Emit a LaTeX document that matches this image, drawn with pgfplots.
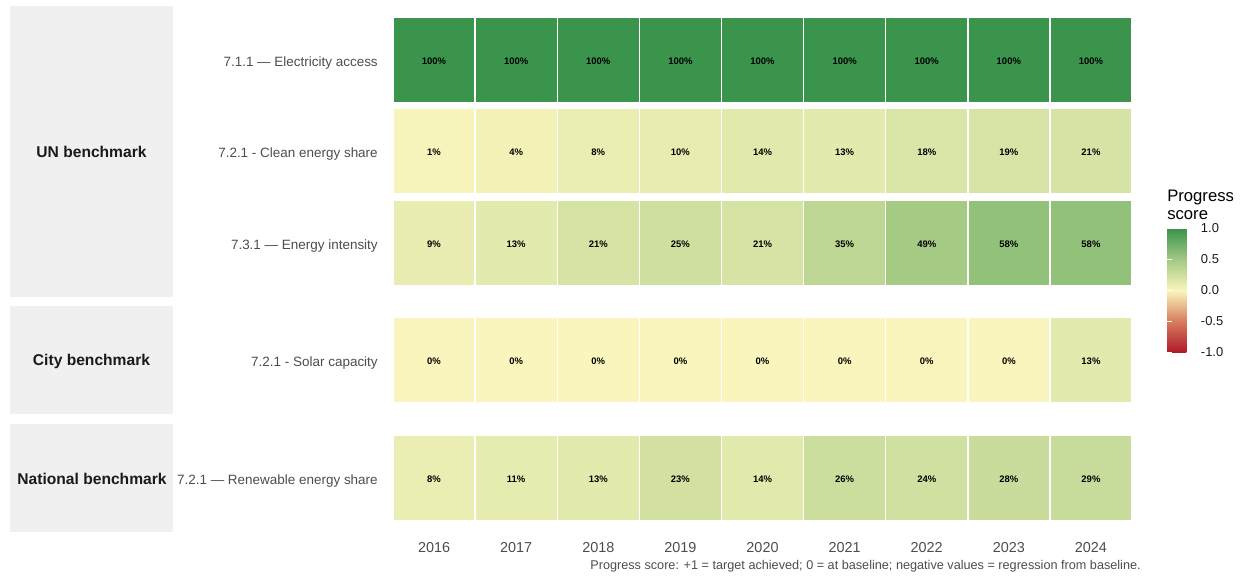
\documentclass[border=0pt]{standalone}
\usepackage{pgfplots}
\pgfplotsset{compat=1.18}
\usepackage{pgfplotstable}
\usepackage{fontspec}
\setmainfont{Liberation Sans}
\definecolor{stripbg}{HTML}{F0F0F0}
\definecolor{labgray}{HTML}{4D4D4D}
\definecolor{txt}{HTML}{1A1A1A}

\pgfdeclareplotmark{tile}{%
  \pgfpathrectangle{\pgfpoint{-30.25pt}{-31.5pt}}{\pgfpoint{60.5pt}{63pt}}%
  \pgfusepathqfill}
\pgfdeclareplotmark{tileempty}{}

% UN benchmark: y=3 Electricity access, y=2 Clean energy share, y=1 Energy intensity
\pgfplotstableread{
x y v
1 3 100
2 3 100
3 3 100
4 3 100
5 3 100
6 3 100
7 3 100
8 3 100
9 3 100
1 2 1
2 2 4
3 2 8
4 2 10
5 2 14
6 2 13
7 2 18
8 2 19
9 2 21
1 1 9
2 1 13
3 1 21
4 1 25
5 1 21
6 1 35
7 1 49
8 1 58
9 1 58
}\untab

\pgfplotstableread{
x y v
1 1 0
2 1 0
3 1 0
4 1 0
5 1 0
6 1 0
7 1 0
8 1 0
9 1 13
}\citytab

\pgfplotstableread{
x y v
1 1 8
2 1 11
3 1 13
4 1 23
5 1 14
6 1 26
7 1 24
8 1 28
9 1 29
}\nattab

\pgfplotsset{
  colormap={rdylgn}{rgb255=(176,24,42) rgb255=(214,124,94) rgb255=(249,245,188) rgb255=(163,201,131) rgb255=(58,148,76)},
  tilestyle/.style={
    scale only axis, width=554.25pt,
    xmin=0.5, xmax=9.5, ymin=0.41,
    axis line style={draw=none}, tick style={draw=none}, major tick length=0pt,
    xtick=\empty,
    yticklabel style={anchor=east, inner sep=0pt, xshift=-11.25pt, yshift=-2pt, text=labgray, font=\fontsize{10.1}{12}\selectfont},
    point meta min=-100, point meta max=100, colormap name=rdylgn,
    clip=false,
  },
  tileplot/.style={
    scatter, only marks, mark=tile,
    point meta=explicit,
    scatter/use mapped color={draw=mapped color, fill=mapped color},
  },
  labelplot/.style={
    only marks, mark=tileempty,
    point meta=explicit,
    nodes near coords={\pgfmathprintnumber[fixed,precision=0,assume math mode=true]{\pgfplotspointmeta}\%},
    nodes near coords align=center,
    every node near coord/.append style={anchor=center, yshift=-0.75pt, text=black, font=\bfseries\fontsize{7.1}{8}\selectfont},
  },
}

\begin{document}
\begin{tikzpicture}
\path[use as bounding box] (0,0) rectangle (933.75pt,433.5pt);

% strips
\fill[stripbg] ({10*0.75pt},{(578-297)*0.75pt}) rectangle ({173*0.75pt},{(578-6)*0.75pt});
\fill[stripbg] ({10*0.75pt},{(578-414)*0.75pt}) rectangle ({173*0.75pt},{(578-306)*0.75pt});
\fill[stripbg] ({10*0.75pt},{(578-532)*0.75pt}) rectangle ({173*0.75pt},{(578-424)*0.75pt});
\node[text=txt, font=\bfseries\fontsize{11.7}{14}\selectfont] at ({91.5*0.75pt},{(578-151.5)*0.75pt}) {UN benchmark};
\node[text=txt, font=\bfseries\fontsize{11.7}{14}\selectfont] at ({91.5*0.75pt},{(578-361)*0.75pt}) {City benchmark};
\node[text=txt, font=\bfseries\fontsize{11.7}{14}\selectfont] at ({92*0.75pt},{(578-479)*0.75pt}) {National benchmark};

% UN benchmark panel
\begin{axis}[tilestyle,
  at={(294.75pt,210.75pt)}, anchor=south west, height=218.25pt,
  ymax=3.59, ytick={1,2,3},
  yticklabels={7.3.1 — Energy intensity, 7.2.1 - Clean energy share, 7.1.1 — Electricity access},
  colorbar,
  colorbar style={
    at={(parent axis.north east)}, anchor=north west,
    xshift=18pt, yshift=-166.9pt,
    scale only axis, width=18.5pt, height=93pt,
    axis line style={draw=none},
    ytick={-1,-0.5,0,0.5,1},
    ytick style={draw=white, line width=0.6pt},
    major tick length=3.5pt, tick align=inside,
    /pgf/number format/fixed, /pgf/number format/fixed zerofill,
    /pgf/number format/precision=1,
    /pgf/number format/assume math mode=true,
    yticklabel style={anchor=west, inner sep=0pt, xshift=6.5pt, text=txt, font=\fontsize{9.7}{11}\selectfont},
    point meta min=-1, point meta max=1,
  },
]
\addplot[tileplot] table[x=x, y=y, meta=v]{\untab};
\addplot[labelplot] table[x=x, y=y, meta=v]{\untab};
\end{axis}

% City benchmark panel
\begin{axis}[tilestyle,
  at={(294.75pt,123pt)}, anchor=south west, height=81pt,
  ymax=1.59, ytick={1}, yticklabels={7.2.1 - Solar capacity},
]
\addplot[tileplot] table[x=x, y=y, meta=v]{\citytab};
\addplot[labelplot] table[x=x, y=y, meta=v]{\citytab};
\end{axis}

% National benchmark panel
\begin{axis}[tilestyle,
  at={(294.75pt,34.5pt)}, anchor=south west, height=81pt,
  ymax=1.59, ytick={1}, yticklabels={7.2.1 — Renewable energy share},
  xtick={1,2,3,4,5,6,7,8,9},
  xticklabels={2016,2017,2018,2019,2020,2021,2022,2023,2024},
  xticklabel style={anchor=north, inner sep=0pt, yshift=-7.4pt, text=labgray, font=\fontsize{10.8}{13}\selectfont},
]
\addplot[tileplot] table[x=x, y=y, meta=v]{\nattab};
\addplot[labelplot] table[x=x, y=y, meta=v]{\nattab};
\end{axis}

% legend title
\node[anchor=south west, align=left, inner sep=0pt, text=black, font=\fontsize{12.5}{13.5}\selectfont] at ({1167*0.75pt},{(578-220)*0.75pt}) {Progress\\score};

% caption
\node[anchor=east, inner sep=0pt, text=labgray, font=\fontsize{9.5}{11}\selectfont] at ({1141*0.75pt},{(578-566)*0.75pt}) {Progress score: +1 = target achieved; 0 = at baseline; negative values = regression from baseline.};
\end{tikzpicture}
\end{document}
